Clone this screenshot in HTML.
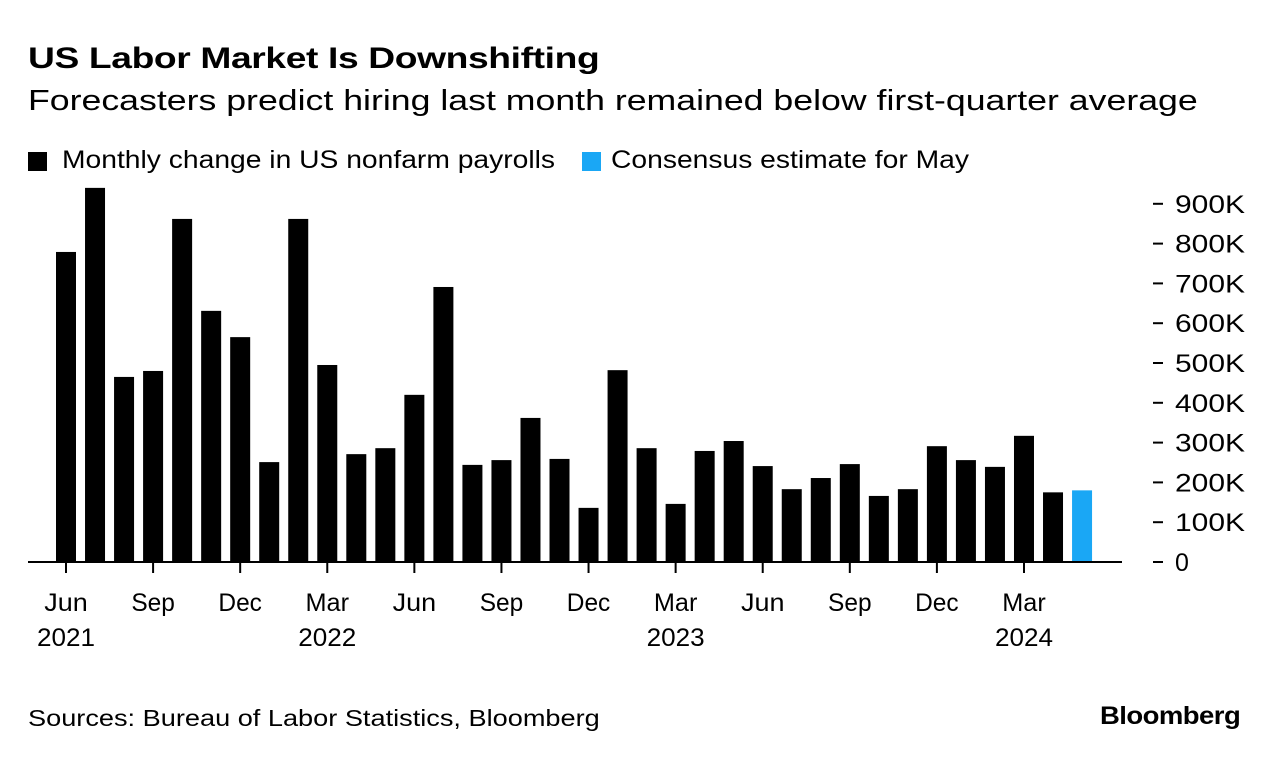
<!DOCTYPE html>
<html><head><meta charset="utf-8"><style>
body{margin:0;background:#fff;font-family:"Liberation Sans",sans-serif;color:#000}
#wrap{position:relative;width:1279px;height:760px;overflow:hidden}
.t{position:absolute;white-space:nowrap;transform-origin:0 0}
</style></head><body>
<div id="wrap">
<div class="t" style="left:28px;top:42px;font-size:30px;font-weight:bold;letter-spacing:-0.3px;transform:scaleX(1.24)">US Labor Market Is Downshifting</div>
<div class="t" style="left:28px;top:85px;font-size:29px;transform:scaleX(1.23)">Forecasters predict hiring last month remained below first-quarter average</div>
<div class="t" style="left:28px;top:146px;font-size:25px"><span style="position:absolute;left:0;top:6px;width:19px;height:19px;background:#000"></span><span style="position:absolute;left:34px;top:0;transform:scaleX(1.13);transform-origin:0 0">Monthly change in US nonfarm payrolls</span></div>
<div class="t" style="left:582px;top:146px;font-size:25px"><span style="position:absolute;left:0;top:6px;width:19px;height:19px;background:#1aa7f5"></span><span style="position:absolute;left:29px;top:0;transform:scaleX(1.13);transform-origin:0 0">Consensus estimate for May</span></div>
<svg id="chart" width="1279" height="760" style="position:absolute;left:0;top:0"></svg>
<div class="t" style="left:28px;top:705px;font-size:23px;transform:scaleX(1.18)">Sources: Bureau of Labor Statistics, Bloomberg</div>
<div class="t" style="left:1100px;top:702px;font-size:25px;font-weight:bold;letter-spacing:-0.5px;transform:scaleX(1.1)">Bloomberg</div>
</div>
<script>
const values=[779,940,465,480,862,631,565,251,862,495,271,286,420,691,244,256,362,259,136,482,286,146,279,304,241,183,211,246,166,183,291,256,239,317,175,180];
const isEstimate=[0,0,0,0,0,0,0,0,0,0,0,0,0,0,0,0,0,0,0,0,0,0,0,0,0,0,0,0,0,0,0,0,0,0,0,1];
const yTicks=[0,100,200,300,400,500,600,700,800,900];
const yTickLabels=["0","100K","200K","300K","400K","500K","600K","700K","800K","900K"];
const xTickIdx=[0,3,6,9,12,15,18,21,24,27,30,33];
const xTickLabels=["Jun","Sep","Dec","Mar","Jun","Sep","Dec","Mar","Jun","Sep","Dec","Mar"];
const xYearLabels=["2021","","","2022","","","","2023","","","","2024"];
const NS="http://www.w3.org/2000/svg";
const svg=document.getElementById('chart');
const y=v=>562-v*0.398;
const x=i=>66+i*29.03;
function mk(t,a){const e=document.createElementNS(NS,t);for(const k in a)e.setAttribute(k,a[k]);svg.appendChild(e);return e;}
values.forEach((v,i)=>{
  const r=mk('rect',{x:x(i)-10,y:y(v),width:20,height:562-y(v),fill:isEstimate[i]?'#1aa7f5':'#000'});
  
  
});
const base=mk('line',{x1:28,x2:1122,y1:562,y2:562,stroke:'#000','stroke-width':2});


yTicks.forEach((v,i)=>{
  const d=mk('line',{x1:1153,x2:1163,y1:y(v),y2:y(v),stroke:'#000','stroke-width':2});
  
  
  const s=yTickLabels[i];
  const a={x:1175,y:y(v)+9,'font-size':25,'font-family':'Liberation Sans'};
  if(s.length>1){a.textLength=s.length*17.5;a.lengthAdjust='spacingAndGlyphs';}
  const t=mk('text',a);
  
  
  t.textContent=s;
});
xTickIdx.forEach((idx,k)=>{
  const l=mk('line',{x1:x(idx),x2:x(idx),y1:562,y2:573,stroke:'#000','stroke-width':2});
  
  
  const t=mk('text',{x:x(idx),y:611,'font-size':25,'text-anchor':'middle','font-family':'Liberation Sans',textLength:xTickLabels[k].length*14.5,lengthAdjust:'spacingAndGlyphs'});
  
  
  t.textContent=xTickLabels[k];
  if(xYearLabels[k]){
    const yl=mk('text',{x:x(idx),y:646,'font-size':25,'text-anchor':'middle','font-family':'Liberation Sans',textLength:58,lengthAdjust:'spacingAndGlyphs'});
    
    
    yl.textContent=xYearLabels[k];
  }
});
</script>
</body></html>
